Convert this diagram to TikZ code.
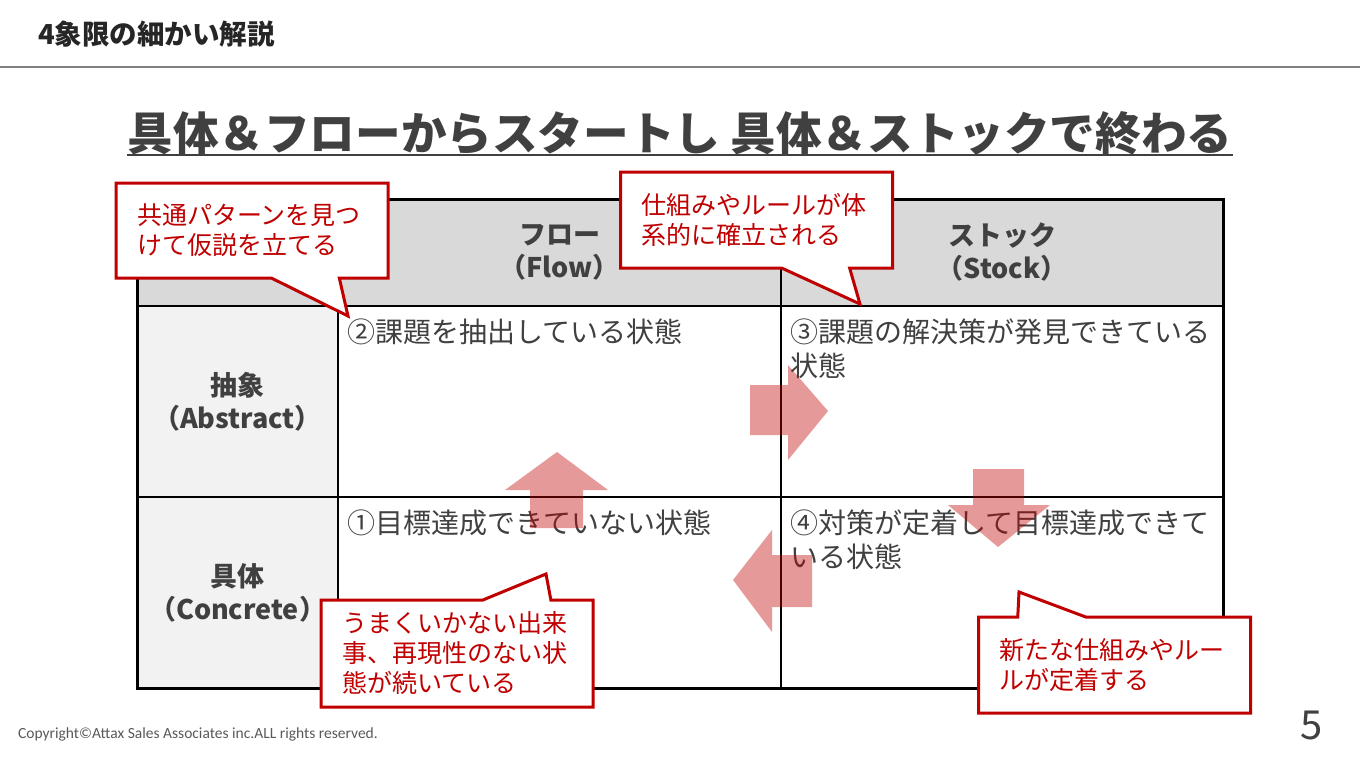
\documentclass[tikz,border=0pt]{standalone}
\usepackage{fontspec}
\setmainfont{Noto Sans CJK JP}
\newfontfamily\copyfont{Carlito}
\usetikzlibrary{
	positioning,
	shapes.callouts
}
\definecolor{TextGray}{RGB}{64,64,64}
\definecolor{HeadGray}{RGB}{217,217,217}
\definecolor{SideGray}{RGB}{242,242,242}
\definecolor{DarkRed}{RGB}{192,0,0}

\begin{document}
\begin{tikzpicture}[x=1pt, y=-1pt,
		cell/.style={draw=black, line width=1.2pt, inner sep=0pt, outer sep=0pt, anchor=north west},
		hdtext/.style={align=center, text=TextGray, font=\fontsize{27}{33}\selectfont\bfseries},
		celltext/.style={anchor=north west, inner sep=0pt, align=left, text=TextGray, font=\fontsize{28}{34}\selectfont},
		flowarrow/.style={fill=DarkRed, fill opacity=0.4},
		callout/.style={rectangle callout, draw=DarkRed, line width=3pt, fill=white, text=DarkRed,
			font=\fontsize{25}{30}\selectfont, align=left, text width=230pt, inner xsep=21pt,
			callout pointer width=68pt}]
		\useasboundingbox (0,0) rectangle (1360,766);
		
		% page head
		\node[anchor=west, inner sep=0pt, text=black!85, font=\fontsize{27.5}{30}\selectfont\bfseries] (pagehead) at (38,34) {4象限の細かい解説};
		\draw[gray, line width=1.5pt] (0,67) -- (1360,67);
		
		\node[anchor=base, inner sep=0pt, text=TextGray, font=\fontsize{45.6}{50}\selectfont\bfseries] (maintitle) at (680,150) {具体＆フローからスタートし 具体＆ストックで終わる};
		\draw[TextGray, line width=2.5pt] ([yshift=-5pt]maintitle.base west) -- ([yshift=-5pt]maintitle.base east);
		
		% table
		\node[cell, fill=HeadGray, minimum width=201pt, minimum height=107pt] (corner) at (137,199) {};
		\node[cell, hdtext, fill=HeadGray, minimum width=443pt, minimum height=107pt, right=0pt of corner] (flowhd) {フロー\\（Flow）};
		\node[cell, hdtext, fill=HeadGray, minimum width=442pt, minimum height=107pt, right=0pt of flowhd] (stockhd) {ストック\\（Stock）};
		\node[cell, hdtext, fill=SideGray, minimum width=201pt, minimum height=191pt, below=0pt of corner] (abshd) {抽象\\（Abstract）};
		\node[cell, hdtext, fill=SideGray, minimum width=201pt, minimum height=191pt, below=0pt of abshd] (conhd) {具体\\（Concrete）};
		\node[cell, minimum width=443pt, minimum height=191pt, below=0pt of flowhd] (absflow) {};
		\node[cell, minimum width=442pt, minimum height=191pt, below=0pt of stockhd] (absstock) {};
		\node[cell, minimum width=443pt, minimum height=191pt, below=0pt of absflow] (conflow) {};
		\node[cell, minimum width=442pt, minimum height=191pt, below=0pt of absstock] (constock) {};
		\draw[line width=3pt] (corner.north west) rectangle (constock.south east);
		
		\node[celltext] (stagetwo) at ([shift={(9,13)}]absflow.north west) {②課題を抽出している状態};
		\node[celltext] (stagethree) at ([shift={(9,13)}]absstock.north west) {③課題の解決策が発見できている\\状態};
		\node[celltext] (stageone) at ([shift={(9,13)}]conflow.north west) {①目標達成できていない状態};
		\node[celltext] (stagefour) at ([shift={(9,13)}]constock.north west) {④対策が定着して目標達成できて\\いる状態};
		
		% arrows
		\fill[flowarrow] (530,528) -- (530,490) -- (505,490) -- (557,452) -- (608,490) -- (583,490) -- (583,528) -- cycle;
		\fill[flowarrow] (750,385) -- (788,385) -- (788,365) -- (828,411) -- (788,460) -- (788,435) -- (750,435) -- cycle;
		\fill[flowarrow] (973,469) -- (1024,469) -- (1024,505) -- (1050,505) -- (998,547) -- (948,505) -- (973,505) -- cycle;
		\fill[flowarrow] (812,555) -- (772,555) -- (772,530) -- (733,580) -- (772,632) -- (772,607) -- (812,607) -- cycle;
		
		% callouts
		\coordinate (tipA) at (348,316);
		\coordinate (tipB) at (860,304);
		\coordinate (tipC) at (546,574);
		\coordinate (tipD) at (1019,592);
		
		\node[callout, minimum height=95pt, callout absolute pointer=(tipA)] (hypothesis) at (252,230.5) {共通パターンを見つ\\けて仮説を立てる};
		\node[callout, minimum height=96pt, callout absolute pointer=(tipB)] (system) at (756.5,220) {仕組みやルールが体\\系的に確立される};
		\node[callout, minimum height=107pt, callout absolute pointer=(tipC)] (trouble) at (457,653.5) {うまくいかない出来\\事、再現性のない状\\態が続いている};
		\node[callout, minimum height=96pt, callout absolute pointer=(tipD)] (newrule) at (1114.5,665) {新たな仕組みやルー\\ルが定着する};
		
		\node[anchor=west, inner sep=0pt, text=black!65, font=\copyfont\fontsize{15.5}{18}\selectfont] (copyright) at (18,734) {Copyright©Attax Sales Associates inc.ALL rights reserved.};
		\node[text=TextGray, font=\fontsize{40}{44}\selectfont] (pagenum) at (1312,725) {5};
	\end{tikzpicture}
\end{document}
